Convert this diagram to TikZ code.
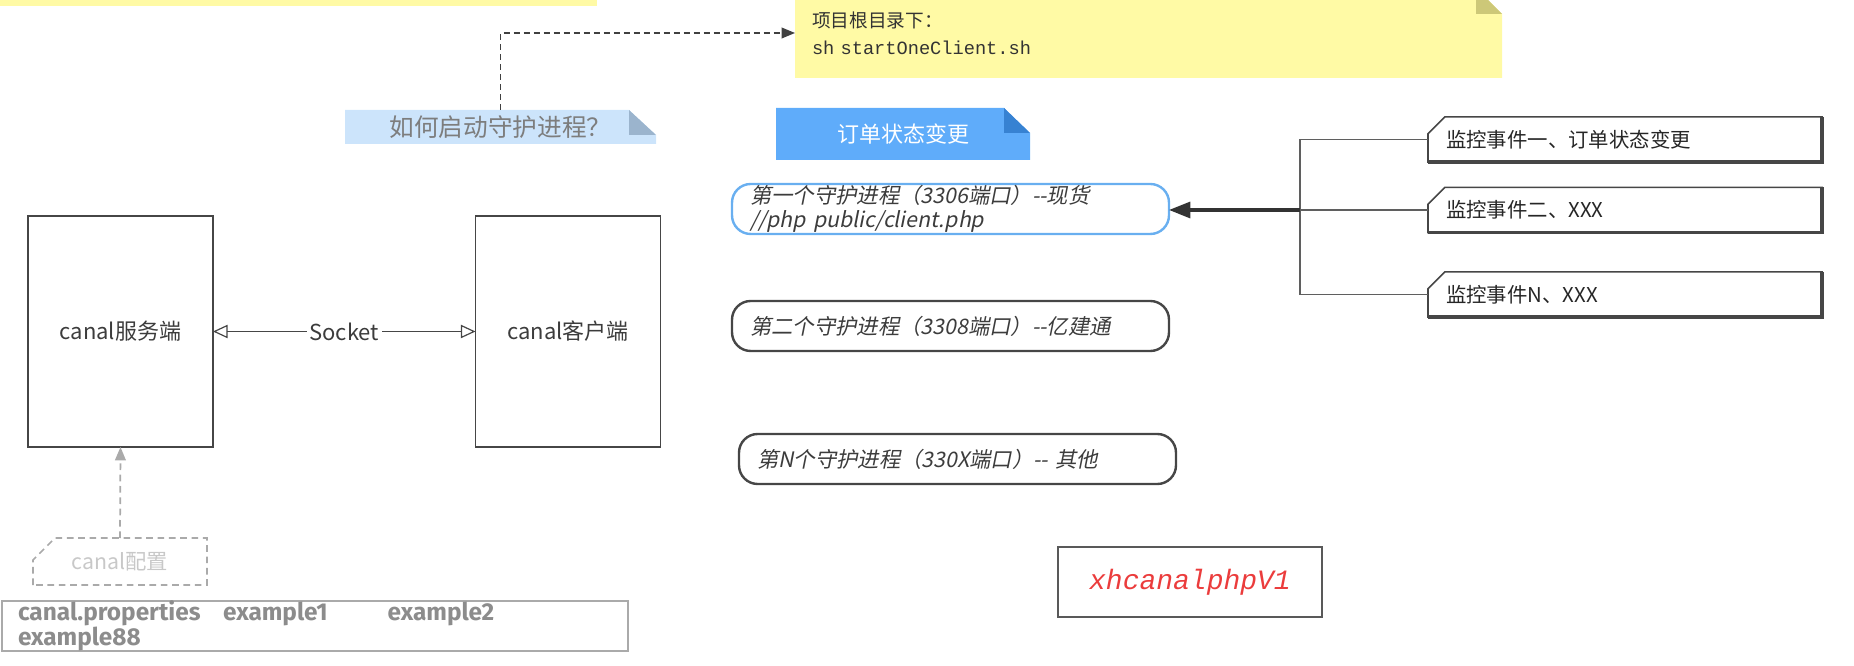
\documentclass[tikz,border=0pt]{standalone}
\usepackage{fontspec}
\setmainfont{Noto Sans CJK SC}
\newfontfamily\slantcjk[FakeSlant=0.2]{Noto Sans CJK SC}
\newfontfamily\codefont{Liberation Mono}
\newfontfamily\propfont{Fira Sans}
\usetikzlibrary{arrows.meta,calc,backgrounds}

\definecolor{noteyellow}{RGB}{255,250,165}
\definecolor{foldyellow}{RGB}{205,200,120}
\definecolor{howfill}{RGB}{204,228,251}
\definecolor{howfold}{RGB}{155,180,205}
\definecolor{howtext}{RGB}{125,125,125}
\definecolor{orderfill}{RGB}{95,172,250}
\definecolor{orderfold}{RGB}{55,130,210}
\definecolor{procblue}{RGB}{105,175,240}
\definecolor{boxline}{RGB}{70,70,70}
\definecolor{boxtext}{RGB}{60,60,60}
\definecolor{treegray}{RGB}{95,95,95}
\definecolor{cfggray}{RGB}{170,170,170}
\definecolor{cfgtext}{RGB}{200,200,200}
\definecolor{proptext}{RGB}{140,140,140}
\definecolor{brandred}{RGB}{235,60,60}

\tikzstyle{every node}=[inner sep=0pt,outer sep=0pt]
\tikzstyle{canalbox} = [draw=boxline,line width=1.1pt,minimum width=138.75pt,minimum height=173.25pt,text=boxtext,font=\fontsize{16.5pt}{20pt}\selectfont]
\tikzstyle{procbox} = [draw=boxline,line width=1.8pt,rounded corners=14pt,minimum width=327.75pt,minimum height=37.5pt,text width=300.75pt,align=left,text=boxtext,font=\slantcjk\fontsize{16pt}{18pt}\selectfont]
\tikzstyle{eventbox} = [minimum width=295.5pt,minimum height=34pt,text width=268.5pt,align=left,text=black!85,font=\fontsize{15.3pt}{18pt}\selectfont]
\tikzstyle{evline} = [draw=boxline,line width=1.2pt]
\tikzstyle{evshade} = [draw=boxline,line width=2.6pt]
\tikzstyle{treeline} = [draw=treegray,line width=1.1pt]
\tikzstyle{arrow} = [draw=black!80,line width=2.3pt,-{Triangle[length=16pt,width=12pt]}]
\tikzstyle{dasharrow} = [draw=black!75,line width=1.1pt,dash pattern=on 4.5pt off 3pt,-{Triangle[length=10pt,width=8pt]}]
\tikzstyle{cfgarrow} = [draw=cfggray,line width=1.3pt,dash pattern=on 5pt off 3.5pt,-{Triangle[length=10pt,width=8pt]}]
\tikzstyle{sockarrow} = [draw=boxline,line width=0.9pt,>={Triangle[open,length=11pt,width=10pt]},<->]

\begin{document}
\begin{tikzpicture}[x=0.75pt,y=-0.75pt]
\useasboundingbox (0,0) rectangle (1854,666);

% notes
\node[minimum width=530.25pt,minimum height=67.5pt,text width=504.75pt,align=left,text=black!80,font=\fontsize{14pt}{20pt}\selectfont] (start) at (1148.5,33) {项目根目录下：\\{\codefont sh startOneClient.sh}};
\node[minimum width=233.25pt,minimum height=25.5pt,text=howtext,font=\fontsize{18.5pt}{20pt}\selectfont] (howto) at (500.5,127) {如何启动守护进程？};
\node[minimum width=190.5pt,minimum height=39pt,text=white,font=\fontsize{16.5pt}{20pt}\selectfont] (order) at (903,134) {订单状态变更};

\begin{scope}[on background layer]
\fill[noteyellow] (0,0) rectangle (597,6);
\fill[noteyellow] (start.south west) |- ($(start.north east)+(-26,0)$) -- ($(start.north east)+(0,26)$) |- cycle;
\fill[foldyellow] ($(start.north east)+(-26,0)$) -- ($(start.north east)+(-26,26)$) -- ($(start.north east)+(0,26)$) -- cycle;
\fill[howfill] (howto.south west) |- ($(howto.north east)+(-27,0)$) -- ($(howto.north east)+(0,25)$) |- cycle;
\fill[howfold] ($(howto.north east)+(-27,0)$) -- ($(howto.north east)+(-27,25)$) -- ($(howto.north east)+(0,25)$) -- cycle;
\fill[orderfill] (order.south west) |- ($(order.north east)+(-26,0)$) -- ($(order.north east)+(0,25)$) |- cycle;
\fill[orderfold] ($(order.north east)+(-26,0)$) -- ($(order.north east)+(-26,25)$) -- ($(order.north east)+(0,25)$) -- cycle;
\end{scope}

% canal server and client
\node[canalbox] (server) at (120.5,331.5) {canal服务端};
\node[canalbox] (client) at (568,331.5) {canal客户端};
\draw[sockarrow] (server.east) -- node[fill=white,inner xsep=2pt,text=boxtext,font=\fontsize{16.5pt}{20pt}\selectfont] {Socket} (client.west);

% config
\node[minimum width=130.5pt,minimum height=35.25pt,text=cfgtext,font=\fontsize{16pt}{20pt}\selectfont] (cfg) at (120,561.5) {canal配置};
\draw[cfggray,line width=1.3pt,dash pattern=on 5pt off 3.5pt] (cfg.south west) -- ($(cfg.north west)+(0,22)$) -- ($(cfg.north west)+(22,0)$) -| (cfg.south east) -- cycle;
\draw[cfgarrow] (cfg.north) -- (server.south);
\node[draw=cfggray,line width=1.1pt,minimum width=469.5pt,minimum height=31.5pt,text width=445.5pt,align=left,text=proptext,font=\propfont\bfseries\fontsize{18.3pt}{18.75pt}\selectfont] (props) at (315,626) {canal.properties\hspace{17pt}example1\hspace{45pt}example2\\example88};

% daemon processes
\node[procbox,draw=procblue] (procA) at (950.5,209) {第一个守护进程（3306端口）--现货\\//php public/client.php};
\node[procbox] (procB) at (950.5,326) {第二个守护进程（3308端口）--亿建通};
\node[procbox] (procN) at (957.5,459) {第N个守护进程（330X端口）-- 其他};

% events
\node[eventbox] (evA) at (1625,139.5) {监控事件一、订单状态变更};
\node[eventbox] (evB) at (1625,210) {监控事件二、XXX};
\node[eventbox] (evN) at (1625,294.5) {监控事件N、XXX};
\draw[evline] (evA.south west) -- ($(evA.north west)+(0,17)$) -- ($(evA.north west)+(17,0)$) -| (evA.south east) -- cycle;
\draw[evshade] (evA.north east) |- (evA.south west);
\draw[evline] (evB.south west) -- ($(evB.north west)+(0,17)$) -- ($(evB.north west)+(17,0)$) -| (evB.south east) -- cycle;
\draw[evshade] (evB.north east) |- (evB.south west);
\draw[evline] (evN.south west) -- ($(evN.north west)+(0,17)$) -- ($(evN.north west)+(17,0)$) -| (evN.south east) -- cycle;
\draw[evshade] (evN.north east) |- (evN.south west);

\coordinate (hub) at (1300,210);
\draw[treeline] (evA.west) -| (hub) |- (evN.west);
\draw[treeline] (evB.west) -- (hub);
\draw[arrow] (hub) -- (procA.east |- hub);

% start arrow
\draw[dasharrow] (howto.north) |- (start.west);

\node[draw=black!65,line width=1.3pt,minimum width=198pt,minimum height=52.5pt,text=brandred,font=\codefont\itshape\fontsize{21pt}{24pt}\selectfont] (brand) at (1190,582) {xhcanalphpV1};

\end{tikzpicture}
\end{document}
